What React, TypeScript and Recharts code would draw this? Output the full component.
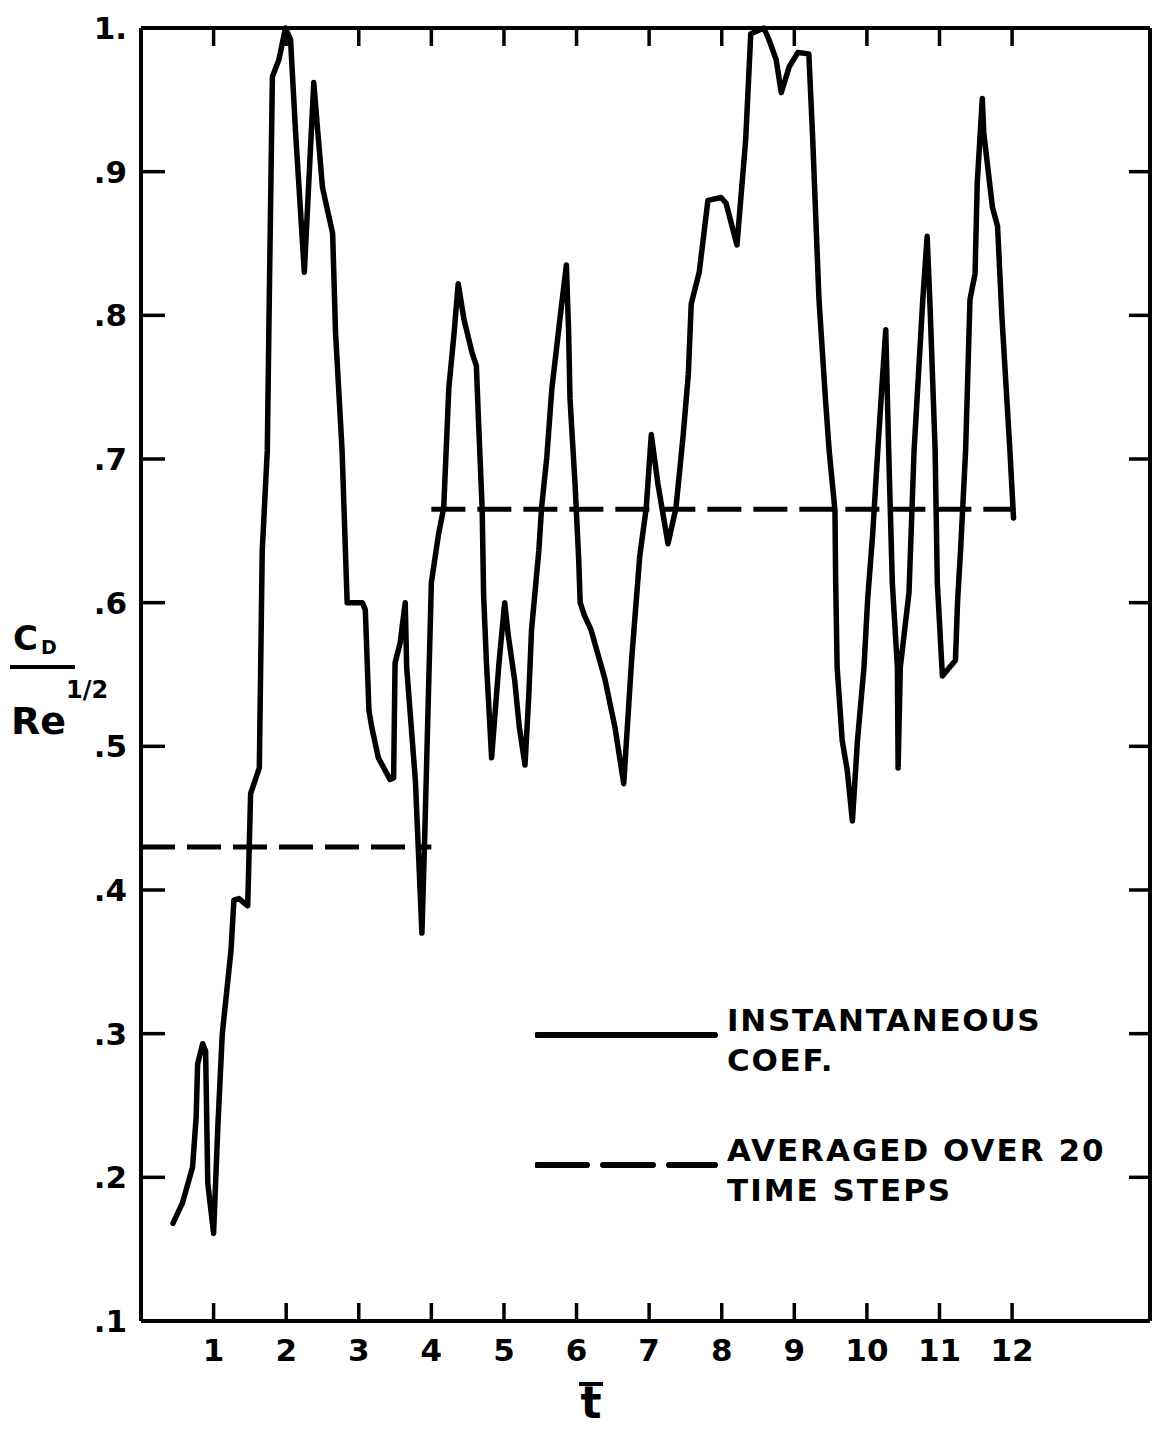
import { LineChart, Line, XAxis, YAxis, Legend } from 'recharts';

// instantaneous drag coefficient: [t, Cd/Re^1/2]
const instantaneous: [number, number][] = [
  [0.44, 0.168], [0.57, 0.182], [0.71, 0.207], [0.76, 0.242], [0.78, 0.279], [0.85, 0.293],
  [0.89, 0.288], [0.92, 0.196], [1.0, 0.161], [1.06, 0.237], [1.12, 0.3], [1.24, 0.358],
  [1.28, 0.393], [1.35, 0.394], [1.47, 0.389], [1.51, 0.467], [1.63, 0.485], [1.67, 0.636],
  [1.74, 0.706], [1.77, 0.822], [1.81, 0.966], [1.9, 0.978], [1.99, 1.0], [2.06, 0.992],
  [2.13, 0.927], [2.25, 0.83], [2.38, 0.962], [2.43, 0.931], [2.5, 0.889], [2.64, 0.857],
  [2.68, 0.788], [2.77, 0.706], [2.84, 0.6], [3.05, 0.6], [3.09, 0.595], [3.14, 0.525],
  [3.18, 0.513], [3.27, 0.492], [3.43, 0.477], [3.48, 0.478], [3.5, 0.558], [3.57, 0.572],
  [3.64, 0.6], [3.66, 0.555], [3.78, 0.476], [3.87, 0.37], [3.91, 0.44], [4.0, 0.614],
  [4.1, 0.648], [4.17, 0.666], [4.21, 0.713], [4.24, 0.749], [4.31, 0.786], [4.37, 0.822],
  [4.45, 0.797], [4.56, 0.774], [4.62, 0.765], [4.65, 0.726], [4.7, 0.665], [4.72, 0.605],
  [4.76, 0.557], [4.83, 0.492], [4.93, 0.557], [5.01, 0.6], [5.06, 0.577], [5.15, 0.545],
  [5.21, 0.514], [5.29, 0.487], [5.34, 0.533], [5.38, 0.581], [5.48, 0.636], [5.52, 0.667],
  [5.59, 0.701], [5.66, 0.749], [5.77, 0.797], [5.86, 0.835], [5.89, 0.79], [5.91, 0.742],
  [5.98, 0.682], [6.03, 0.63], [6.05, 0.6], [6.11, 0.591], [6.2, 0.581], [6.39, 0.547],
  [6.53, 0.513], [6.65, 0.474], [6.76, 0.561], [6.87, 0.632], [6.96, 0.666], [7.03, 0.717],
  [7.12, 0.683], [7.26, 0.641], [7.37, 0.666], [7.47, 0.717], [7.54, 0.759], [7.58, 0.808],
  [7.69, 0.83], [7.81, 0.88], [7.99, 0.882], [8.06, 0.878], [8.21, 0.849], [8.33, 0.922],
  [8.4, 0.996], [8.58, 1.0], [8.65, 0.992], [8.75, 0.978], [8.82, 0.955], [8.93, 0.973],
  [9.05, 0.983], [9.2, 0.982], [9.25, 0.927], [9.34, 0.811], [9.43, 0.741], [9.48, 0.706],
  [9.56, 0.664], [9.57, 0.614], [9.59, 0.555], [9.66, 0.504], [9.73, 0.483], [9.8, 0.448],
  [9.87, 0.504], [9.96, 0.555], [10.01, 0.602], [10.08, 0.648], [10.15, 0.706], [10.21, 0.753],
  [10.26, 0.79], [10.3, 0.706], [10.35, 0.614], [10.42, 0.555], [10.43, 0.485], [10.46, 0.555],
  [10.58, 0.607], [10.65, 0.706], [10.77, 0.811], [10.83, 0.855], [10.87, 0.806], [10.94, 0.706],
  [10.97, 0.614], [11.04, 0.549], [11.22, 0.56], [11.25, 0.602], [11.29, 0.636], [11.36, 0.706],
  [11.42, 0.811], [11.49, 0.829], [11.52, 0.892], [11.59, 0.951], [11.61, 0.927], [11.73, 0.875],
  [11.8, 0.862], [11.86, 0.799], [11.97, 0.706], [12.02, 0.659],
];

// 20-step averages: time span and level
const avgSpans: [number, number][] = [[0, 4], [4, 12]];
const avgLevels = [0.43, 0.665];

const tTicks = [1, 2, 3, 4, 5, 6, 7, 8, 9, 10, 11, 12];
const cdTicks = [0.1, 0.2, 0.3, 0.4, 0.5, 0.6, 0.7, 0.8, 0.9, 1.0];
const cdTickLabels = ['.1', '.2', '.3', '.4', '.5', '.6', '.7', '.8', '.9', '1.'];

const legendItems = [
  { lines: ['INSTANTANEOUS', 'COEF.'], dash: undefined },
  { lines: ['AVERAGED OVER 20', 'TIME STEPS'], dash: '50 16' },
];

const FONT = 'DejaVu Sans';
const INK = '#000';
const T_DOMAIN: [number, number] = [0, 13.9];
const CD_DOMAIN: [number, number] = [0.1, 1];

const instData = instantaneous.map(([t, v]) => ({ t, v }));
const avgData = avgSpans.map(([a, b], i) => [
  { t: a, v: avgLevels[i] },
  { t: b, v: avgLevels[i] },
]);

const renderYLabel = () => (
  <g fontFamily={FONT} fill={INK} fontWeight="bold">
    <text x={5} y={642} fontSize={34}>C</text>
    <text x={33} y={646} fontSize={19}>D</text>
    <line x1={2} x2={67} y1={659} y2={659} stroke={INK} strokeWidth={4} />
    <text x={3} y={726} fontSize={38}>Re</text>
    <text x={58} y={690} fontSize={24}>1/2</text>
  </g>
);

const renderXLabel = () => (
  <g fontFamily={FONT} fill={INK} fontWeight="bold">
    <line x1={571} x2={595} y1={1376} y2={1376} stroke={INK} strokeWidth={4} />
    <text x={583} y={1410} fontSize={44} textAnchor="middle">t</text>
  </g>
);

const renderLegend = () => (
  <div style={{ fontFamily: FONT, fontWeight: 'bold', fontSize: 31, lineHeight: '40px', color: INK }}>
    {legendItems.map((item, i) => (
      <div key={i} style={{ display: 'flex', alignItems: 'flex-start', marginBottom: i === 0 ? 50 : 0 }}>
        <svg width={192} height={80} style={{ flex: 'none' }}>
          <line x1={2} x2={180} y1={35} y2={35} stroke={INK} strokeWidth={6}
            strokeDasharray={item.dash} strokeLinecap="round" />
        </svg>
        <div style={{ letterSpacing: i === 0 ? 1.7 : 2 }}>
          {item.lines.map((l) => <div key={l}>{l}</div>)}
        </div>
      </div>
    ))}
  </div>
);

const App = () => {
  const axisLine = { stroke: INK, strokeWidth: 4 };
  const tickLine = { stroke: INK, strokeWidth: 3.5 };
  const tickText = { fill: INK, fontSize: 31, fontFamily: FONT, fontWeight: 'bold' };
  const blank = () => '';

  return (
    <LineChart width={1153} height={1424} margin={{ top: 19, right: 10, bottom: 51, left: 0 }}>
      <XAxis xAxisId="b" type="number" dataKey="t" domain={T_DOMAIN} ticks={tTicks} interval={0}
        height={60} tickSize={-18} tickMargin={36} axisLine={axisLine} tickLine={tickLine}
        tick={tickText} label={{ content: renderXLabel }} />
      <XAxis xAxisId="top" orientation="top" type="number" dataKey="t" domain={T_DOMAIN} ticks={tTicks}
        interval={0} height={1} tickSize={-18} axisLine={axisLine} tickLine={tickLine} tickFormatter={blank} />
      <YAxis yAxisId="l" type="number" domain={CD_DOMAIN} ticks={cdTicks} interval={0}
        width={133} tickSize={-24} tickMargin={38} axisLine={axisLine} tickLine={tickLine}
        tick={tickText} tickFormatter={(v: number) => cdTickLabels[cdTicks.indexOf(v)]}
        label={{ content: renderYLabel }} />
      <YAxis yAxisId="r" orientation="right" type="number" domain={CD_DOMAIN} ticks={cdTicks} interval={0}
        width={1} tickSize={-21} axisLine={axisLine} tickLine={tickLine} tickFormatter={blank} />
      {/* the averages sit on the top/right scales, which are identical to bottom/left */}
      {avgData.map((d, i) => (
        <Line key={i} xAxisId="top" yAxisId="r" data={d} dataKey="v" type="linear" stroke={INK}
          strokeWidth={5} strokeDasharray="34 12" dot={false} isAnimationActive={false} legendType="none" />
      ))}
      <Line xAxisId="b" yAxisId="l" data={instData} dataKey="v" type="linear" stroke={INK}
        strokeWidth={5.5} strokeLinejoin="round" strokeLinecap="round" dot={false}
        isAnimationActive={false} />
      <Legend layout="vertical" align="center" verticalAlign="middle" content={renderLegend}
        wrapperStyle={{ left: 527, top: 992, width: 620, height: 'auto' }} />
    </LineChart>
  );
};

export default App;
